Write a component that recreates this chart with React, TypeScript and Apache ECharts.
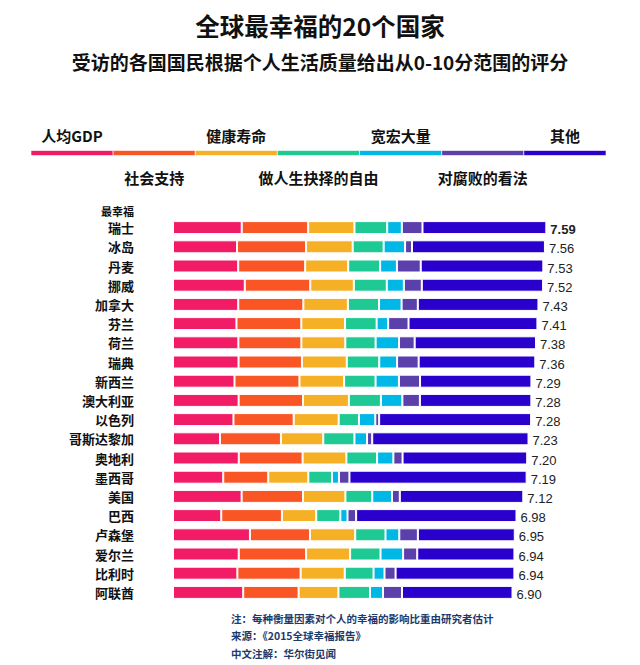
import React, { useEffect, useRef } from "react";
import * as echarts from "echarts";

const countries = ["瑞士", "冰岛", "丹麦", "挪威", "加拿大", "芬兰", "荷兰", "瑞典", "新西兰", "澳大利亚", "以色列", "哥斯达黎加", "奥地利", "墨西哥", "美国", "巴西", "卢森堡", "爱尔兰", "比利时", "阿联酋"];
const factorNames = ["人均GDP", "社会支持", "健康寿命", "做人生抉择的自由", "宽宏大量", "对腐败的看法", "其他"];
const factorColors = ["#F21C66", "#FA5524", "#F5B026", "#1FC993", "#00B8E6", "#5B3FAA", "#2A00CC"];

const gdp = [1.397, 1.302, 1.325, 1.459, 1.326, 1.290, 1.329, 1.332, 1.250, 1.334, 1.229, 0.956, 1.337, 1.021, 1.395, 0.981, 1.564, 1.336, 1.308, 1.427];
const socialSupport = [1.350, 1.402, 1.361, 1.331, 1.323, 1.318, 1.280, 1.289, 1.320, 1.309, 1.224, 1.238, 1.297, 0.915, 1.247, 1.233, 1.220, 1.369, 1.286, 1.126];
const health = [0.941, 0.948, 0.875, 0.885, 0.906, 0.889, 0.893, 0.911, 0.908, 0.932, 0.914, 0.860, 0.890, 0.814, 0.862, 0.697, 0.919, 0.895, 0.897, 0.809];
const freedom = [0.666, 0.629, 0.649, 0.670, 0.633, 0.642, 0.616, 0.660, 0.639, 0.651, 0.413, 0.634, 0.624, 0.482, 0.546, 0.490, 0.616, 0.618, 0.585, 0.642];
const generosity = [0.297, 0.436, 0.341, 0.347, 0.458, 0.234, 0.476, 0.363, 0.475, 0.436, 0.332, 0.255, 0.331, 0.141, 0.401, 0.146, 0.280, 0.459, 0.223, 0.264];
const corruption = [0.420, 0.141, 0.484, 0.365, 0.330, 0.414, 0.318, 0.438, 0.429, 0.356, 0.078, 0.106, 0.187, 0.213, 0.159, 0.175, 0.378, 0.287, 0.225, 0.386];
const other = [2.517, 2.702, 2.492, 2.465, 2.452, 2.620, 2.466, 2.371, 2.264, 2.266, 3.089, 3.177, 2.533, 3.602, 2.510, 3.260, 1.970, 1.976, 2.415, 2.247];
const scoreLabels = ["7.59", "7.56", "7.53", "7.52", "7.43", "7.41", "7.38", "7.36", "7.29", "7.28", "7.28", "7.23", "7.20", "7.19", "7.12", "6.98", "6.95", "6.94", "6.94", "6.90"];

const title = "全球最幸福的20个国家";
const subtitle = "受访的各国国民根据个人生活质量给出从0-10分范围的评分";
const headerLabel = "最幸福";
const notes = ["注：每种衡量因素对个人的幸福的影响比重由研究者估计", "来源：《2015全球幸福报告》", "中文注解：华尔街见闻"];

const CJK = '"Noto Sans CJK SC", "Noto Sans", sans-serif';

export default function App() {
  const ref = useRef<HTMLDivElement>(null);
  useEffect(() => {
    document.body.style.margin = "0";
    if (!ref.current) return;
    const chart = echarts.init(ref.current, null, { renderer: "svg" });
    const seriesData = [gdp, socialSupport, health, freedom, generosity, corruption, other];

    const series: any[] = seriesData.map((arr, i) => ({
      name: factorNames[i],
      type: "bar",
      stack: "total",
      barWidth: 13,
      itemStyle: { color: factorColors[i], borderColor: "#ffffff", borderWidth: 1 },
      data: arr.map((v, idx) => {
        if (i === 6 && idx === 0) {
          return { value: v, label: { fontWeight: "bold" } };
        }
        return v;
      }),
      label: i === 6 ? {
        show: true,
        position: "right",
        distance: 4,
        offset: [0, 2],
        formatter: (p: any) => scoreLabels[p.dataIndex],
        color: "#222",
        fontSize: 13,
        fontFamily: '"Liberation Sans", Arial, sans-serif',
      } : { show: false },
    }));

    const segW = 575 / 7;
    const legendX = 31;
    const legendGraphics: any[] = [];
    factorNames.forEach((name, i) => {
      legendGraphics.push({
        type: "rect",
        shape: { x: legendX + i * segW, y: 150.5, width: segW, height: 5 },
        style: { fill: factorColors[i], stroke: "#ffffff", lineWidth: 0.6 },
      });
      legendGraphics.push({
        type: "text",
        x: legendX + (i + 0.5) * segW,
        y: i % 2 === 0 ? 135 : 177,
        style: {
          text: name,
          fill: "#111",
          font: `bold 15px ${CJK}`,
          textAlign: "center",
          textVerticalAlign: "middle",
        },
      });
    });

    const noteGraphics = notes.map((t, i) => ({
      type: "text",
      x: 231,
      y: 618 + i * 17.5,
      style: {
        text: t,
        fill: "#1d3a6b",
        font: `bold 10.5px ${CJK}`,
        textAlign: "left",
        textVerticalAlign: "middle",
      },
    }));

    chart.setOption({
      animation: false,
      grid: { left: 173, top: 218, height: 384, width: 393.6 },
      xAxis: { type: "value", min: 0, max: 8, show: false },
      yAxis: {
        type: "category",
        data: countries,
        inverse: true,
        axisLine: { show: false },
        axisTick: { show: false },
        axisLabel: {
          margin: 39,
          color: "#111",
          fontSize: 13,
          fontWeight: "bold",
          fontFamily: CJK,
        },
      },
      series,
      graphic: [
        {
          type: "text",
          x: 320,
          y: 25,
          style: { text: title, fill: "#111", font: `bold 24.5px ${CJK}`, textAlign: "center", textVerticalAlign: "middle" },
        },
        {
          type: "text",
          x: 320,
          y: 61,
          style: { text: subtitle, fill: "#111", font: `bold 19px ${CJK}`, textAlign: "center", textVerticalAlign: "middle" },
        },
        {
          type: "text",
          x: 134,
          y: 211,
          style: { text: headerLabel, fill: "#111", font: `bold 11px ${CJK}`, textAlign: "right", textVerticalAlign: "middle" },
        },
        ...legendGraphics,
        ...noteGraphics,
      ],
    });
    return () => chart.dispose();
  }, []);
  return <div ref={ref} style={{ width: 640, height: 665 }} />;
}
